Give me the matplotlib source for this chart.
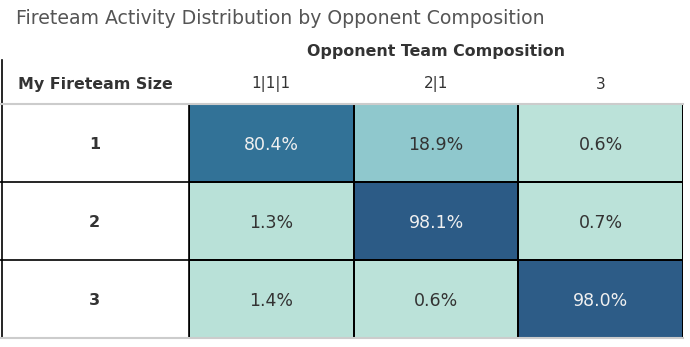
import matplotlib.pyplot as plt
import numpy as np
from matplotlib.colors import LinearSegmentedColormap

plt.rcParams['font.family'] = ['DejaVu Sans']

# share of activities per fireteam size (rows) and opponent composition (cols)
fireteam_sizes = ['1', '2', '3']
opponent_comps = ['1|1|1', '2|1', '3']
shares = np.array([
    [80.4, 18.9, 0.6],
    [1.3, 98.1, 0.7],
    [1.4, 0.6, 98.0],
])

W, H = 690, 347
fig = plt.figure(figsize=(W / 100, H / 100), dpi=100)

# heatmap block in pixel terms: left, top, right, bottom
x0, y0, x1, y1 = 189, 104, 683, 338
ax = fig.add_axes([x0 / W, 1 - y1 / H, (x1 - x0) / W, (y1 - y0) / H])

cmap = LinearSegmentedColormap.from_list(
    'teal_blue',
    [(0.0, '#bce3d9'), (0.19, '#8fc8cd'), (0.80, '#327397'), (1.0, '#2c5985')])
ax.pcolormesh(shares, cmap=cmap, vmin=0, vmax=100,
              edgecolors='black', linewidth=1.2)
ax.set_xlim(0, 3)
ax.set_ylim(3, 0)
ax.set_xticks([])
ax.set_yticks([])
for s in ax.spines.values():
    s.set_visible(False)

col_w = (x1 - x0) / 3
hdr = x0 / col_w  # width of the row-header column in cell units

for i in range(3):
    for j in range(3):
        v = shares[i, j]
        ax.text(j + 0.5, i + 0.52, f'{v:.1f}%', ha='center', va='center',
                fontsize=12.5, color='#f0f0f0' if v > 50 else '#333333')
    ax.text(-hdr / 2, i + 0.52, fireteam_sizes[i], ha='center', va='center',
            fontsize=11.5, fontweight='bold', color='#333333', clip_on=False)
    # row separators in the header column
    if i > 0:
        ax.plot([-hdr, 0], [i, i], color='black', lw=1.2, clip_on=False)

# top and bottom table borders
ax.plot([-hdr, 3], [0, 0], color='#cccccc', lw=1.5, clip_on=False, zorder=5)
ax.plot([-hdr, 3], [3, 3], color='#cccccc', lw=1.5, clip_on=False, zorder=5)
ax.plot([-hdr + 0.012, -hdr + 0.012], [-0.57, 3], color='black', lw=1.2,
        clip_on=False)
ax.plot([0, 0], [0, 3], color='black', lw=1.2, clip_on=False)

for j, lab in enumerate(opponent_comps):
    ax.text(j + 0.5, -0.25, lab, ha='center', va='center', fontsize=11,
            color='#333333', clip_on=False)

ax.text(1.5, -0.67, 'Opponent Team Composition', ha='center', va='center',
        fontsize=11.4, fontweight='bold', color='#333333', clip_on=False)
ax.text(-hdr + 0.11, -0.25, 'My Fireteam Size', ha='left', va='center',
        fontsize=11.4, fontweight='bold', color='#333333', clip_on=False)

fig.text(16 / W, 1 - 18 / H, 'Fireteam Activity Distribution by Opponent Composition',
         ha='left', va='center', fontsize=13.6, color='#555555')

fig.savefig('out.png', dpi=100)
